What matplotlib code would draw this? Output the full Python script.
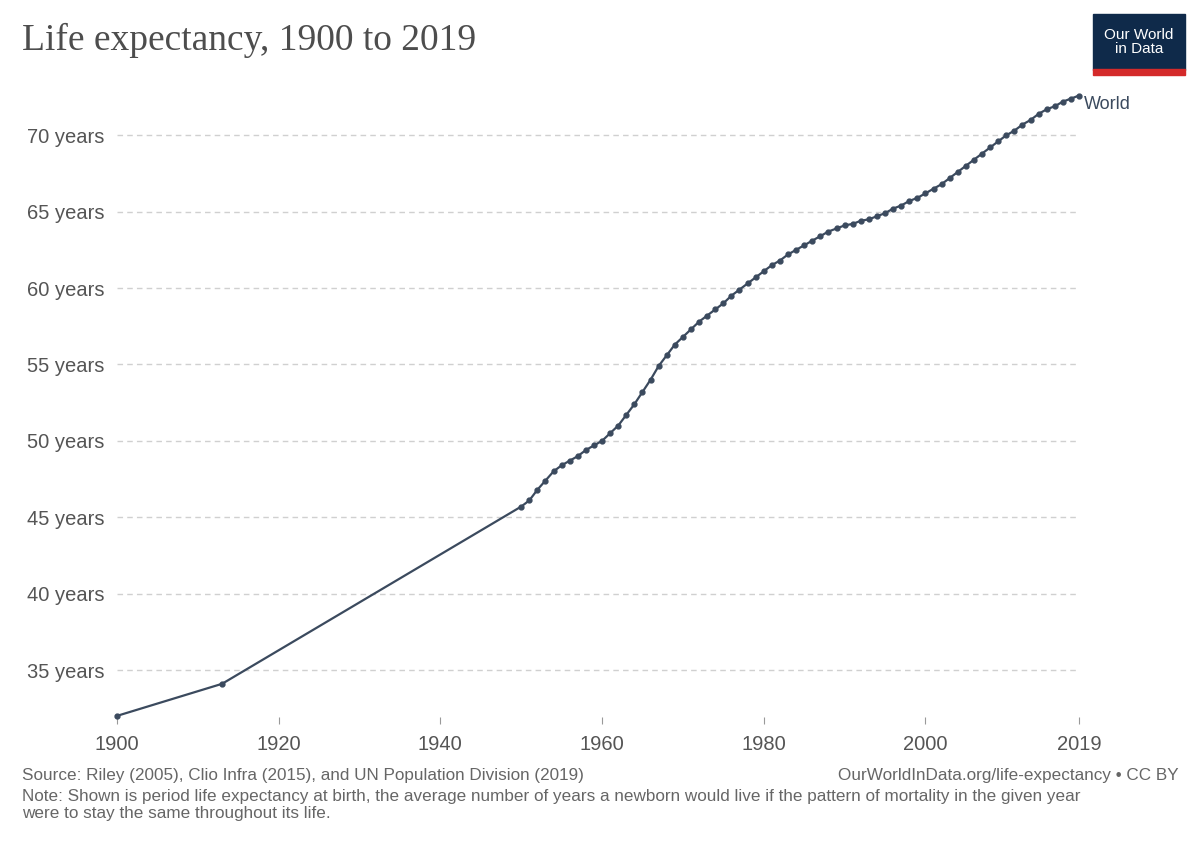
import matplotlib.pyplot as plt
from matplotlib.patches import Rectangle

years = [1900, 1913] + list(range(1950, 2020))
life_exp = [32.0, 34.1,
            45.7, 46.1, 46.8, 47.4, 48.0, 48.4, 48.7, 49.0, 49.4, 49.7,
            50.0, 50.5, 51.0, 51.7, 52.4, 53.2, 54.0, 54.9, 55.6, 56.3,
            56.8, 57.3, 57.8, 58.2, 58.6, 59.0, 59.5, 59.9, 60.3, 60.7,
            61.1, 61.5, 61.8, 62.2, 62.5, 62.8, 63.1, 63.4, 63.7, 63.9,
            64.1, 64.2, 64.4, 64.5, 64.7, 64.9, 65.2, 65.4, 65.7, 65.9,
            66.2, 66.5, 66.8, 67.2, 67.6, 68.0, 68.4, 68.8, 69.2, 69.6,
            70.0, 70.3, 70.7, 71.0, 71.4, 71.7, 71.9, 72.2, 72.4, 72.6]
x_ticks = [1900, 1920, 1940, 1960, 1980, 2000, 2019]
y_ticks = [35, 40, 45, 50, 55, 60, 65, 70]

plt.rcParams['font.family'] = ['Liberation Sans', 'DejaVu Sans']
line_color = '#3b4a5e'
grey = '#555555'

fig = plt.figure(figsize=(12, 8.47), dpi=100)
ax = fig.add_axes([0.0975, 0.153, 0.8017, 0.736])

ax.plot(years, life_exp, color=line_color, linewidth=1.6, marker='o',
        markersize=3.5, clip_on=False)
ax.text(2019.6, life_exp[-1], 'World', color=line_color, fontsize=13,
        va='top', ha='left')

ax.set_xlim(1900, 2019)
ax.set_ylim(31.9, 72.7)
ax.set_xticks(x_ticks)
ax.set_xticklabels([str(t) for t in x_ticks], fontsize=14.5, color=grey)
ax.set_yticks(y_ticks)
ax.set_yticklabels([f'{t} years' for t in y_ticks], fontsize=14.5, color=grey)
ax.tick_params(axis='y', length=0, pad=9)
ax.tick_params(axis='x', length=5, color='#999999', pad=8)
ax.grid(axis='y', color='#d0d0d0', linestyle=(0, (4, 3)), linewidth=1)
for s in ['top', 'right', 'left', 'bottom']:
    ax.spines[s].set_visible(False)

fig.text(0.018, 0.952, 'Life expectancy, 1900 to 2019', fontsize=27,
         family='Liberation Serif', color='#4d4d4d', va='center')

# logo
fig.patches.append(Rectangle((0.9108, 0.917), 0.0767, 0.066, transform=fig.transFigure,
                             color='#0f2a4a'))
fig.patches.append(Rectangle((0.9108, 0.911), 0.0767, 0.007, transform=fig.transFigure,
                             color='#d42a2a'))
fig.text(0.9492, 0.950, 'Our World\nin Data', color='white', fontsize=11,
         ha='center', va='center', linespacing=1.0)

fig.text(0.018, 0.085, 'Source: Riley (2005), Clio Infra (2015), and UN Population Division (2019)',
         fontsize=12.3, color='#666666', va='center')
fig.text(0.982, 0.085, 'OurWorldInData.org/life-expectancy • CC BY',
         fontsize=12.3, color='#666666', va='center', ha='right')
fig.text(0.018, 0.050, 'Note: Shown is period life expectancy at birth, the average number of years a newborn would live if the pattern of mortality in the given year\nwere to stay the same throughout its life.',
         fontsize=12.3, color='#666666', va='center', linespacing=1.15)

fig.savefig('out.png', dpi=100)
